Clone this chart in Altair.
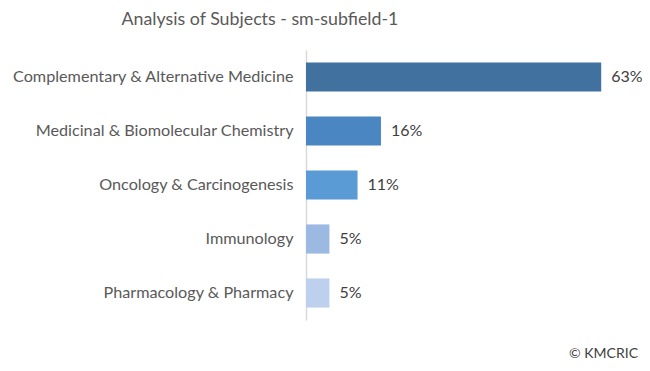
import altair as alt
import pandas as pd

categories = [
    "Complementary & Alternative Medicine",
    "Medicinal & Biomolecular Chemistry",
    "Oncology & Carcinogenesis",
    "Immunology",
    "Pharmacology & Pharmacy",
]
values = [63, 16, 11, 5, 5]
labels = ["63%", "16%", "11%", "5%", "5%"]
colors = ["#41729F", "#4A87C2", "#5B9BD5", "#9CB9E2", "#BDD1EE"]

df = pd.DataFrame({"cat": categories, "val": values, "lab": labels})

FONT = "Lato"
GREY = "#595959"

y_enc = alt.Y(
    "cat:N",
    sort=categories,
    scale=alt.Scale(paddingInner=0.46, paddingOuter=0.23),
    axis=alt.Axis(
        title=None, ticks=False, labelPadding=13, labelFontSize=16.2,
        labelColor=GREY, labelFont=FONT, domainColor="#D9D9D9",
        domainWidth=1.5, labelLimit=400,
    ),
)
x_enc = alt.X("val:Q", scale=alt.Scale(domain=[0, 70]), axis=None)

bars = alt.Chart(df).mark_bar().encode(
    y=y_enc,
    x=x_enc,
    color=alt.Color("cat:N", scale=alt.Scale(domain=categories, range=colors), legend=None),
)

text = alt.Chart(df).mark_text(
    align="left", baseline="middle", dx=10, fontSize=16, color="#404040", font=FONT
).encode(y=alt.Y("cat:N", sort=categories), x="val:Q", text="lab:N")

credit = alt.Chart(pd.DataFrame({"t": ["© KMCRIC"]})).mark_text(
    align="right", baseline="middle", fontSize=14, color="#404040", font=FONT
).encode(x=alt.value(332), y=alt.value(304), text="t:N")

chart = (bars + text + credit).properties(
    width=328,
    height=270,
    autosize=alt.AutoSizeParams(type="none"),
    padding={"left": 298, "top": 42, "right": 8, "bottom": 40},
    title=alt.TitleParams(
        "Analysis of Subjects - sm-subfield-1",
        anchor="middle", frame="group", dx=-210, fontSize=17.8,
        font=FONT, fontWeight="normal", color=GREY, offset=21,
    ),
).configure_view(stroke=None, clip=False)

chart.save("out.html", embed_options={"renderer": "svg", "actions": False})
